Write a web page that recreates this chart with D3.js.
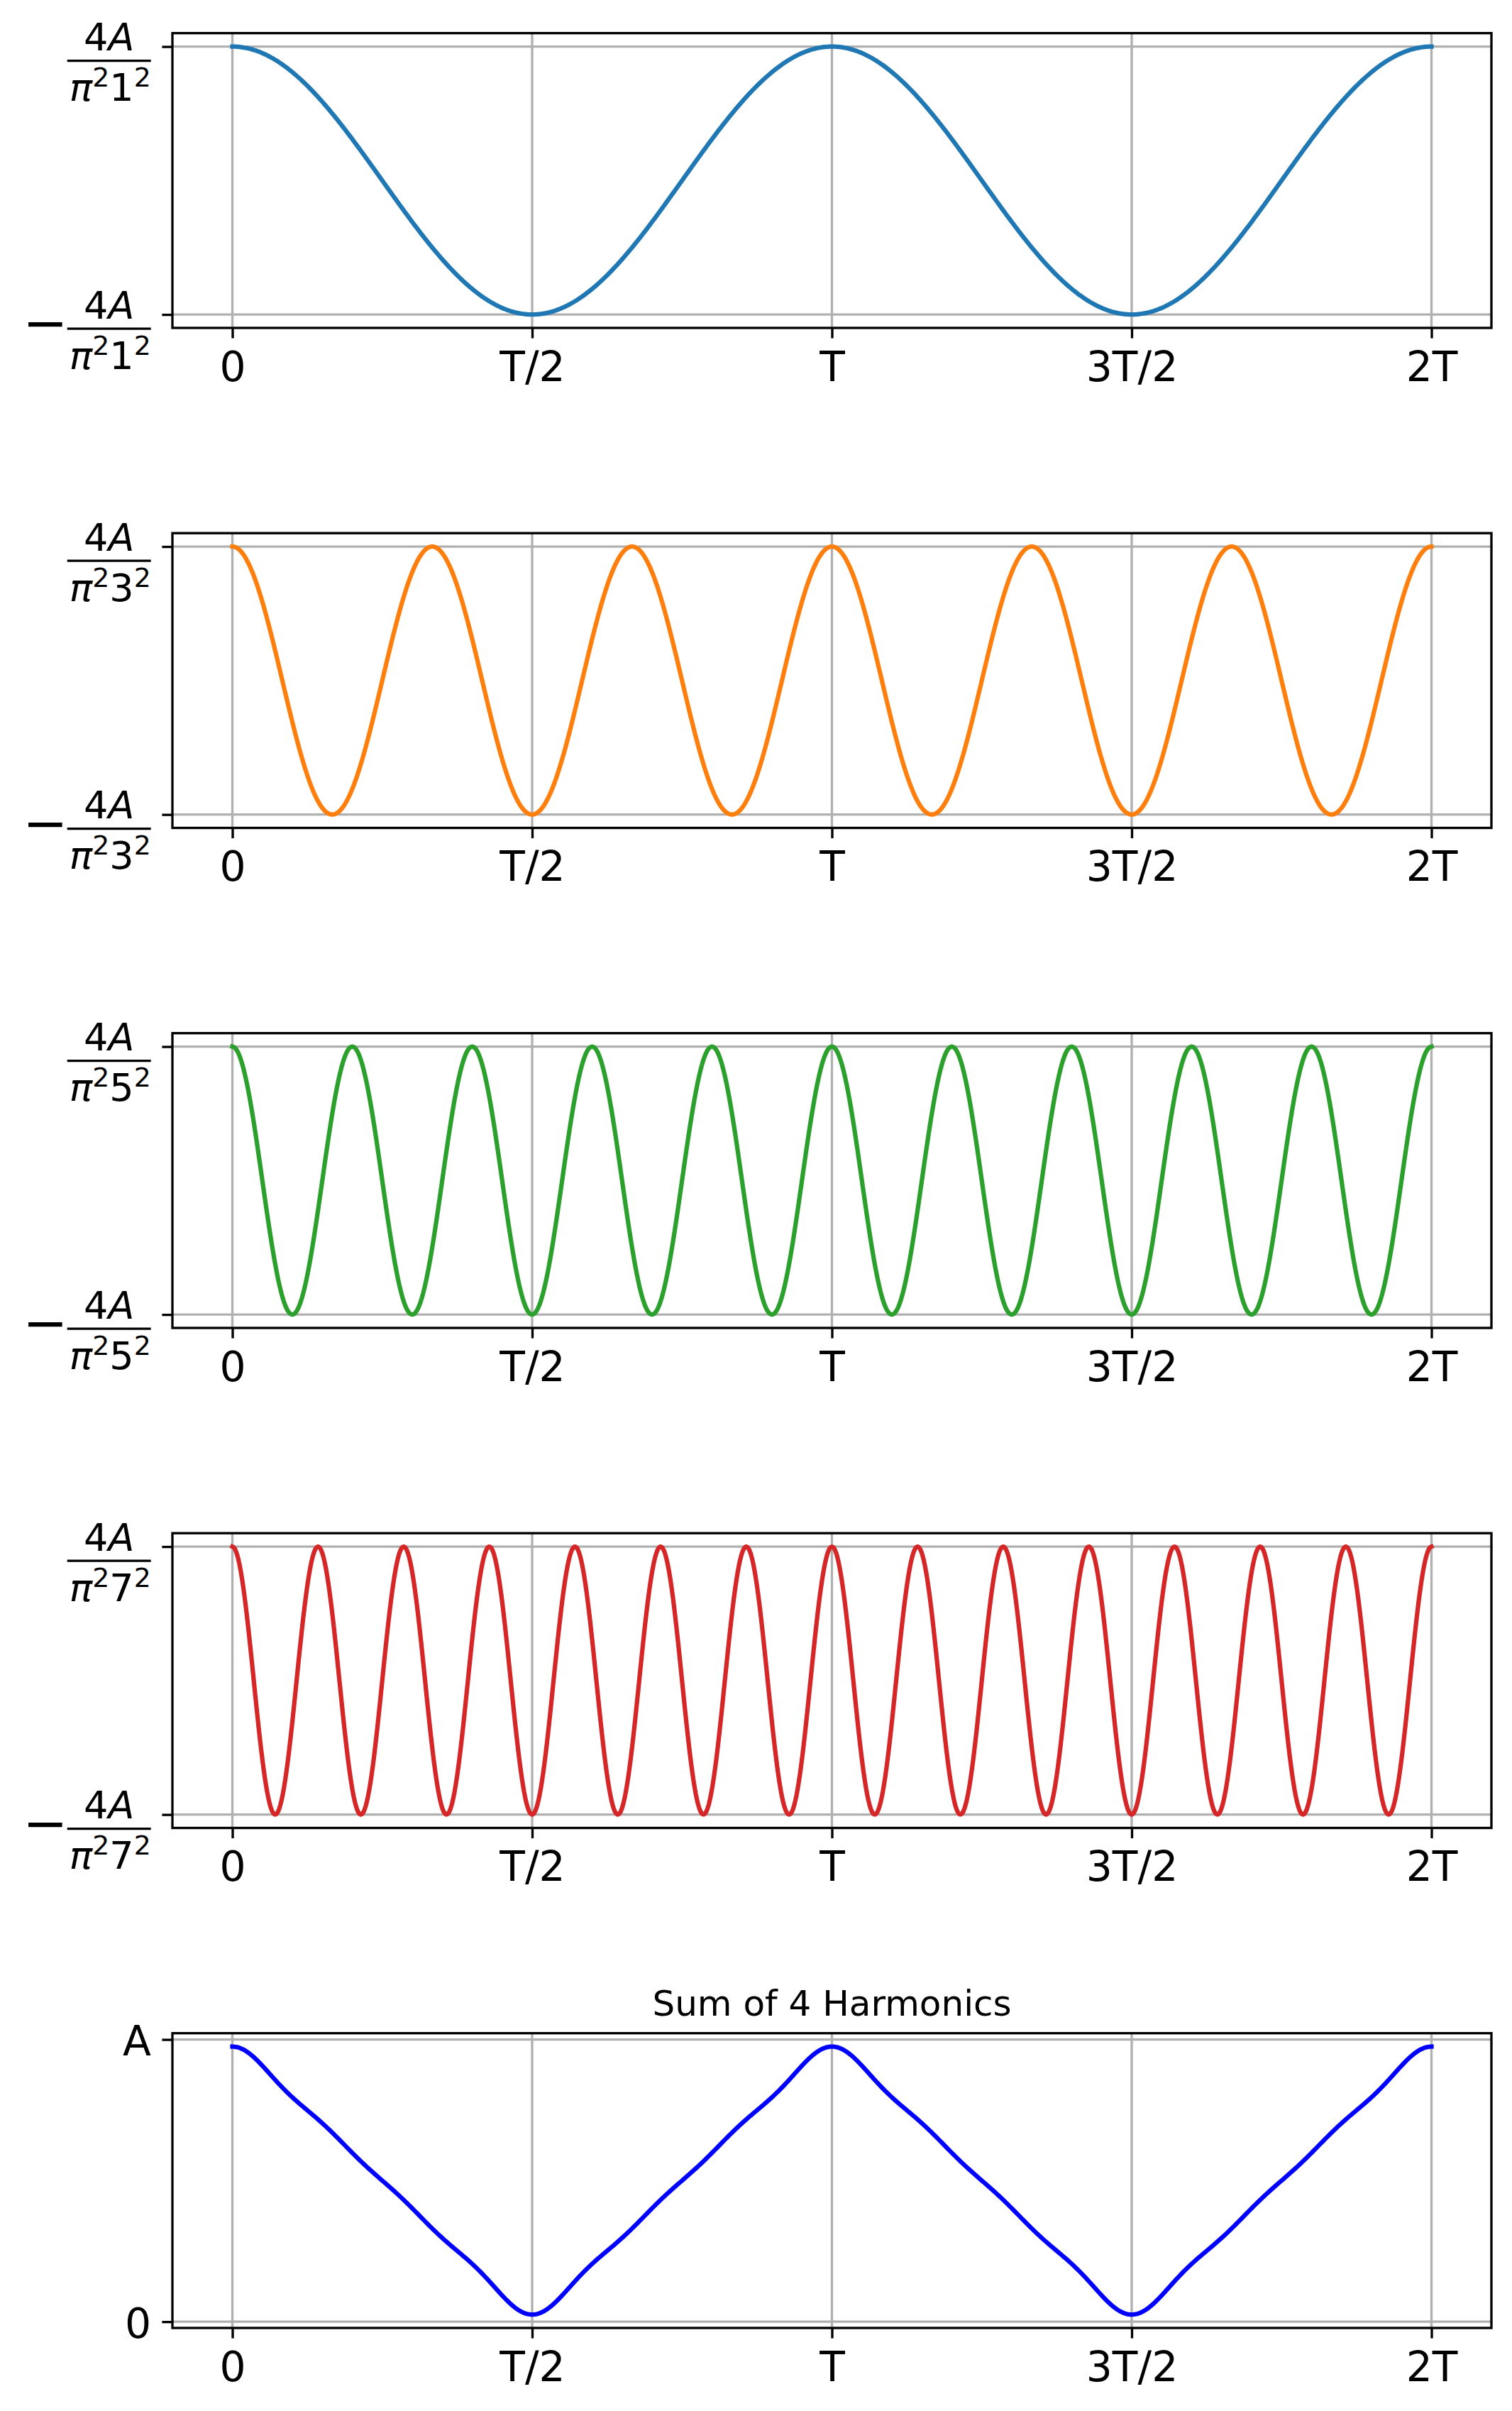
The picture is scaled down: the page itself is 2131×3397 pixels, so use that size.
<!DOCTYPE html>
<html><head><meta charset="utf-8">
<script src="https://cdn.jsdelivr.net/npm/d3@7"></script>
<style>body{margin:0;background:#fff}svg{display:block}</style>
</head><body>
<svg id="chart" width="2131" height="3397"></svg>
<script>
// ---------------- data ----------------
const harmonicOrders = [1, 3, 5, 7];                 // odd harmonics shown
const harmonicDenominators = ["1", "3", "5", "7"];   // digit in 4A/(π² n²)
const harmonicColors = ["#1f77b4", "#ff7f0e", "#2ca02c", "#d62728"];
const sumColor = "#0000ff";
const sumOffset = 0.5;                        // DC term, units of A
const harmonicCoefficient = 4 / (Math.PI * Math.PI);   // 4A/π², units of A
const timeDomain = [0, 2];                    // in periods T
const sampleCount = 1000;
const xTickValues = [0, 0.5, 1, 1.5, 2];
const xTickLabels = ["0", "T/2", "T", "3T/2", "2T"];
const harmonicYTickValues = [-1, 1];          // ± 4A/(π² n²)
const sumYTickValues = [0, 1];
const sumYTickLabels = ["0", "A"];
const sumTitle = "Sum of 4 Harmonics";

// ---------------- layout ----------------
const W = 2131, H = 3397;
const left = 243, right = 2102, panelH = 415.3;
const panelTops = [46.7, 751.2, 1455.7, 2160.2, 2864.7];
const tickLen = 14.6, lw = 3.33, lineW = 6.25;
const tickFs = 58.33, fracFs = 54, supFs = 37.8, minusFs = 76;
const labelRight = 213;
const font = "DejaVu Sans";

const svg = d3.select("#chart").attr("font-family", font);
svg.append("rect").attr("width", W).attr("height", H).attr("fill", "#fff");

const times = d3.range(sampleCount).map(i => timeDomain[0] + (timeDomain[1] - timeDomain[0]) * i / (sampleCount - 1));
const x = d3.scaleLinear().domain([-0.1, 2.1]).range([left, right]);

function harmonicSeries(n) {
  return times.map(t => ({t, v: Math.cos(2 * Math.PI * n * t)}));
}
const sumSeries = times.map(t => ({
  t,
  v: sumOffset + d3.sum(harmonicOrders, n => harmonicCoefficient / (n * n) * Math.cos(2 * Math.PI * n * t))
}));

function drawFrame(g, top, y, yTicks) {
  g.selectAll(".gx").data(xTickValues).join("line")
    .attr("x1", d => x(d)).attr("x2", d => x(d))
    .attr("y1", top).attr("y2", top + panelH)
    .attr("stroke", "#b0b0b0").attr("stroke-width", lw);
  g.selectAll(".gy").data(yTicks).join("line")
    .attr("x1", left).attr("x2", right)
    .attr("y1", d => y(d)).attr("y2", d => y(d))
    .attr("stroke", "#b0b0b0").attr("stroke-width", lw);
}

function drawAxes(g, top, y, yTicks) {
  const bottom = top + panelH;
  const xa = g.append("g").attr("transform", `translate(0,${bottom})`)
    .call(d3.axisBottom(x).tickValues(xTickValues).tickFormat((d, i) => xTickLabels[i])
      .tickSize(tickLen).tickSizeOuter(0));
  xa.select(".domain").remove();
  xa.selectAll(".tick line").attr("stroke", "#000").attr("stroke-width", lw);
  xa.selectAll(".tick text").attr("y", 74.7).attr("dy", null)
    .attr("font-size", tickFs).attr("font-family", font).attr("fill", "#000");
  const ya = g.append("g").attr("transform", `translate(${left},0)`)
    .call(d3.axisLeft(y).tickValues(yTicks).tickFormat("").tickSize(tickLen).tickSizeOuter(0));
  ya.select(".domain").remove();
  ya.selectAll(".tick line").attr("stroke", "#000").attr("stroke-width", lw);
  g.append("rect").attr("x", left).attr("y", top).attr("width", right - left).attr("height", panelH)
    .attr("fill", "none").attr("stroke", "#000").attr("stroke-width", lw);
}

function fracLabel(g, ty, digit, negative) {
  const lab = g.append("g");
  const num = lab.append("text").attr("font-size", fracFs).attr("text-anchor", "middle").attr("fill", "#000");
  num.append("tspan").text("4");
  num.append("tspan").attr("font-style", "italic").text("A");
  const den = lab.append("text").attr("font-size", fracFs).attr("text-anchor", "middle").attr("fill", "#000");
  den.append("tspan").attr("font-style", "italic").text("π");
  den.append("tspan").attr("font-size", supFs).attr("dy", -20).text("2");
  den.append("tspan").attr("dy", 20).text(digit);
  den.append("tspan").attr("font-size", supFs).attr("dy", -20).text("2");
  const w = Math.max(num.node().getComputedTextLength(), den.node().getComputedTextLength()) + 3;
  const barR = labelRight - 0.3, barL = barR - w, cx = (barL + barR) / 2;
  num.attr("x", cx).attr("y", ty + 5.5);
  den.attr("x", cx + 1.5).attr("y", ty + 76.5);
  lab.append("line").attr("x1", barL).attr("x2", barR)
    .attr("y1", ty + 20).attr("y2", ty + 20)
    .attr("stroke", "#000").attr("stroke-width", 3.4);
  if (negative) {
    lab.append("text").attr("font-size", minusFs).attr("text-anchor", "end")
      .attr("x", barL + 1).attr("y", ty + 38).attr("fill", "#000").text("\u2212");
  }
}

harmonicOrders.forEach((n, i) => {
  const top = panelTops[i];
  const y = d3.scaleLinear().domain([-1.1, 1.1]).range([top + panelH, top]);
  const g = svg.append("g");
  drawFrame(g, top, y, harmonicYTickValues);
  g.append("path").datum(harmonicSeries(n))
    .attr("fill", "none").attr("stroke", harmonicColors[i]).attr("stroke-width", lineW)
    .attr("stroke-linejoin", "round").attr("stroke-linecap", "square")
    .attr("d", d3.line().x(d => x(d.t)).y(d => y(d.v)));
  drawAxes(g, top, y, harmonicYTickValues);
  harmonicYTickValues.forEach(v => fracLabel(g, y(v), harmonicDenominators[i], v < 0));
});

{
  const top = panelTops[4];
  const ext = d3.extent(sumSeries, d => d.v);
  const pad = (ext[1] - ext[0]) * 0.05;
  const y = d3.scaleLinear().domain([ext[0] - pad, ext[1] + pad]).range([top + panelH, top]);
  const g = svg.append("g");
  drawFrame(g, top, y, sumYTickValues);
  g.append("path").datum(sumSeries)
    .attr("fill", "none").attr("stroke", sumColor).attr("stroke-width", lineW)
    .attr("stroke-linejoin", "round").attr("stroke-linecap", "square")
    .attr("d", d3.line().x(d => x(d.t)).y(d => y(d.v)));
  drawAxes(g, top, y, sumYTickValues);
  g.selectAll(".ylab").data(sumYTickValues).join("text")
    .attr("x", labelRight).attr("y", d => y(d) + 22.5)
    .attr("text-anchor", "end").attr("font-size", tickFs).attr("fill", "#000")
    .text((d, i) => sumYTickLabels[i]);
  g.append("text").attr("x", (left + right) / 2).attr("y", top - 25)
    .attr("text-anchor", "middle").attr("font-size", 50).attr("fill", "#000").text(sumTitle);
}
</script>
</body></html>
